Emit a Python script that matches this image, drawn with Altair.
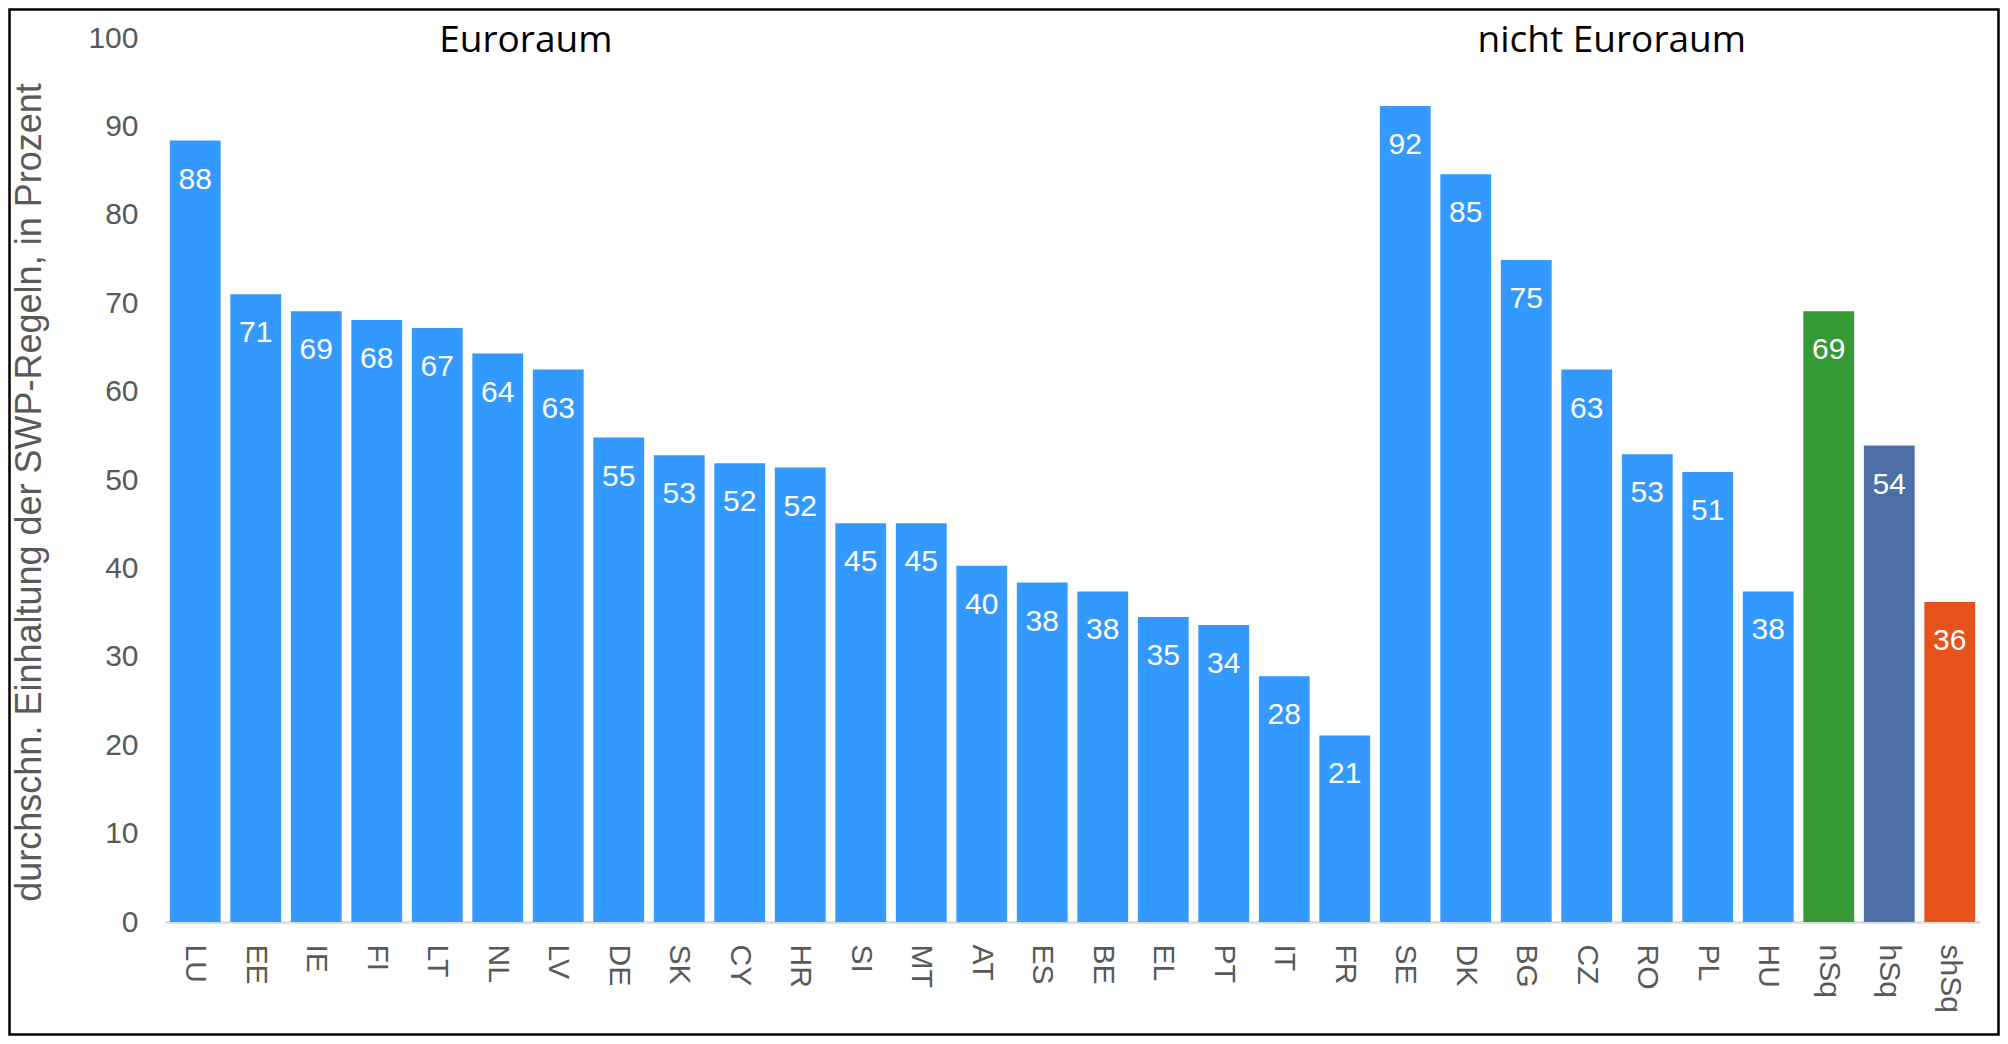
import altair as alt
import pandas as pd

# ---- data ----
countries = ["LU", "EE", "IE", "FI", "LT", "NL", "LV", "DE", "SK", "CY",
             "HR", "SI", "MT", "AT", "ES", "BE", "EL", "PT", "IT", "FR",
             "SE", "DK", "BG", "CZ", "RO", "PL", "HU", "nSq", "hSq", "shSq"]
values = [88.4, 71.0, 69.1, 68.1, 67.2, 64.3, 62.5, 54.8, 52.8, 51.9,
          51.4, 45.1, 45.1, 40.3, 38.4, 37.4, 34.5, 33.6, 27.8, 21.1,
          92.3, 84.6, 74.9, 62.5, 52.9, 50.9, 37.4, 69.1, 53.9, 36.2]
value_labels = [88, 71, 69, 68, 67, 64, 63, 55, 53, 52,
                52, 45, 45, 40, 38, 38, 35, 34, 28, 21,
                92, 85, 75, 63, 53, 51, 38, 69, 54, 36]
groups = ["Euroraum"] * 20 + ["nicht Euroraum"] * 7 + ["nSq", "hSq", "shSq"]
group_names = ["Euroraum", "nicht Euroraum", "nSq", "hSq", "shSq"]
group_colors = ["#3399FF", "#3399FF", "#359A35", "#4C6FA6", "#E65219"]
y_ticks = list(range(0, 101, 10))
y_title = "durchschn. Einhaltung der SWP-Regeln, in Prozent"
section_titles = ["Euroraum", "nicht Euroraum"]
section_anchor = ["NL", "CZ"]
section_dx = [28, 25]

W, H = 1815, 884
PAD = {"left": 157, "top": 30, "right": 20, "bottom": 114}

df = pd.DataFrame({
    "Land": countries,
    "Wert": values,
    "Label": [str(v) for v in value_labels],
    "Gruppe": groups,
})

x_bar = alt.X(
    "Land:N", sort=countries,
    scale=alt.Scale(paddingInner=0.16, paddingOuter=0.08),
    axis=alt.Axis(
        title=None, labelAngle=90, labelAlign="left", labelBaseline="middle",
        labelFontSize=30, labelFont="Liberation Sans", labelColor="#595959",
        labelPadding=22, ticks=False, tickSize=0,
        domainColor="#d9d9d9", domainWidth=2.5, labelOverlap=False,
    ),
)
y_bar = alt.Y(
    "Wert:Q",
    scale=alt.Scale(domain=[0, 100], nice=False),
    axis=alt.Axis(
        values=y_ticks, grid=False, domain=False, ticks=False, tickSize=0,
        labelFontSize=30, labelFont="Liberation Sans", labelColor="#595959",
        labelPadding=27, labelFlush=False, labelOverlap=False,
        title=y_title, titleFontSize=36, titleFont="Liberation Sans",
        titleColor="#595959", titleFontWeight="normal", titleAngle=270,
        titleAlign="center", titleBaseline="alphabetic",
        titleX=-125, titleY=454,
    ),
)

bars = alt.Chart(df).mark_bar().encode(
    x=x_bar,
    y=y_bar,
    color=alt.Color("Gruppe:N", scale=alt.Scale(domain=group_names, range=group_colors), legend=None),
)

labels = alt.Chart(df).mark_text(
    color="white", fontSize=30, font="Liberation Sans",
    baseline="alphabetic", align="center", dy=48,
).encode(
    x=alt.X("Land:N", sort=countries),
    y=alt.Y("Wert:Q"),
    text="Label:N",
)

layers = [bars, labels]
for t, a, d in zip(section_titles, section_anchor, section_dx):
    ann = pd.DataFrame({"Land": [a], "Wert": [100], "Text": [t]})
    layers.append(
        alt.Chart(ann).mark_text(
            font="Open Sans", fontSize=37, color="black",
            baseline="alphabetic", align="center", dx=d, dy=13.7,
        ).encode(
            x=alt.X("Land:N", sort=countries),
            y=alt.Y("Wert:Q"),
            text="Text:N",
        )
    )

frame = alt.Chart(pd.DataFrame({"k": [0]})).mark_rect(
    fillOpacity=0, stroke="black", strokeWidth=2.5,
).encode(
    x=alt.value(-PAD["left"] + 1.5),
    x2=alt.value(W + PAD["right"] - 1.5),
    y=alt.value(-PAD["top"] + 1.5),
    y2=alt.value(H + PAD["bottom"] - 1.5),
)
layers.append(frame)

chart = alt.layer(*layers).properties(
    width=W, height=H,
    autosize=alt.AutoSizeParams(type="none"),
    padding=PAD,
    background="white",
).configure_view(stroke=None)

chart.save("out.html", embed_options={"renderer": "svg", "actions": False})
